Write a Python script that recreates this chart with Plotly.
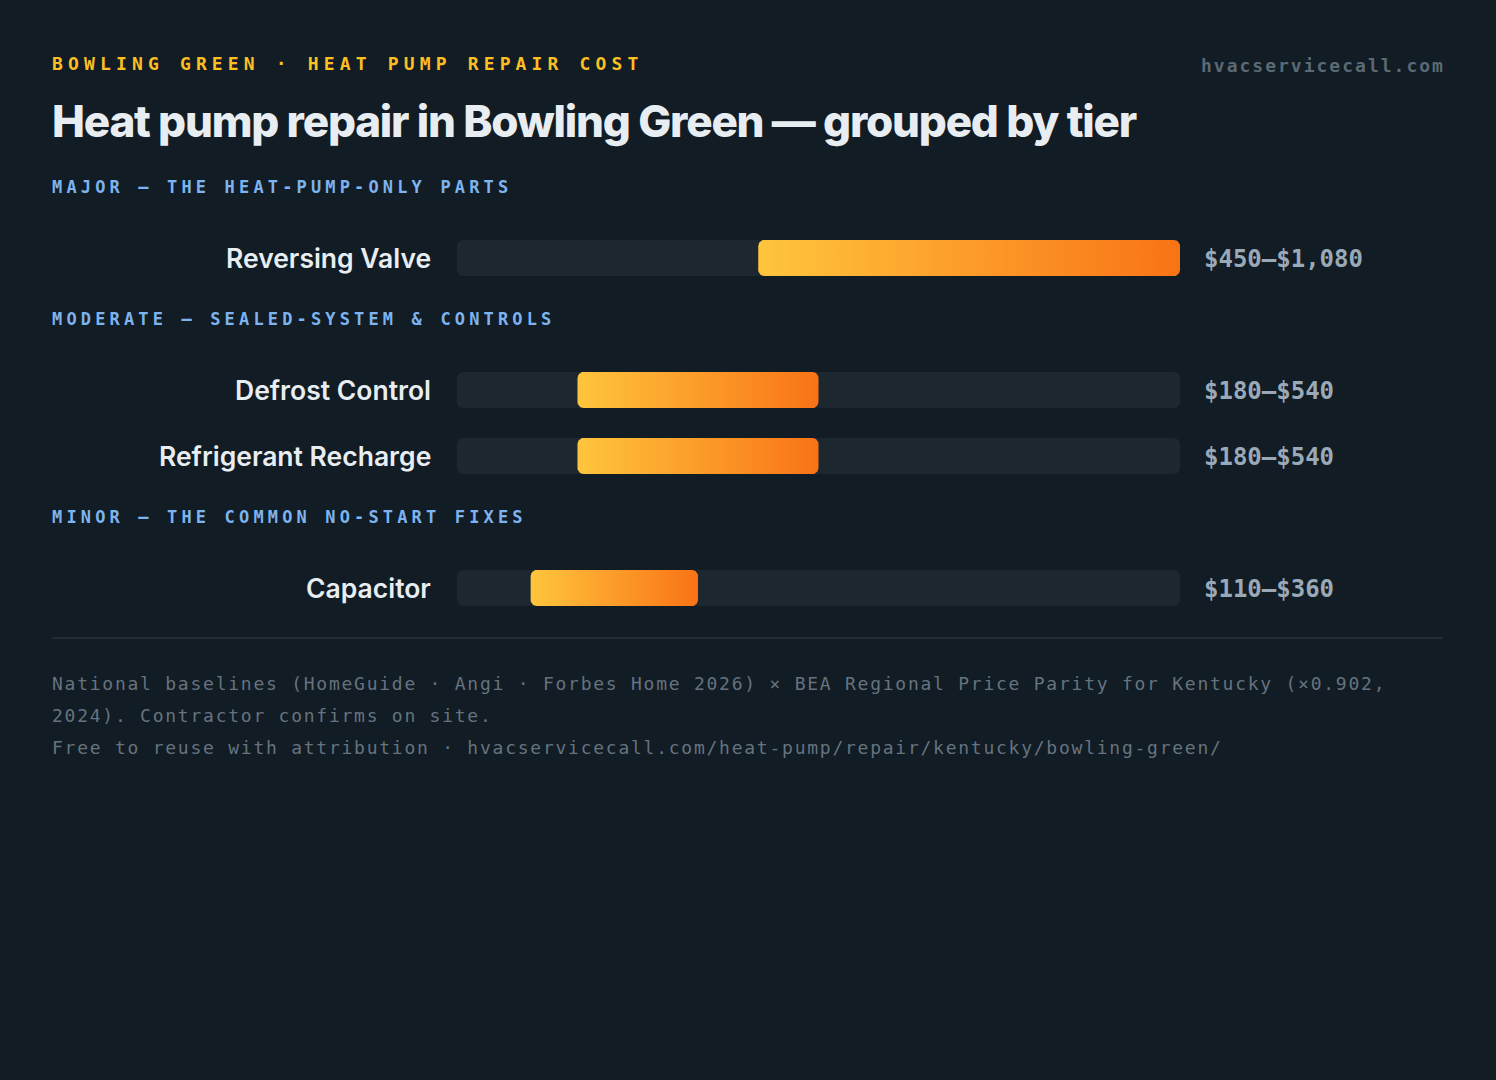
import numpy as np
import plotly.graph_objects as go

# ---------------- data ----------------
kicker = "BOWLING GREEN · HEAT PUMP REPAIR COST"
title = "Heat pump repair in Bowling Green — grouped by tier"
site = "hvacservicecall.com"
tiers = [
    "MAJOR — THE HEAT-PUMP-ONLY PARTS",
    "MODERATE — SEALED-SYSTEM & CONTROLS",
    "MINOR — THE COMMON NO-START FIXES",
]
items = ["Reversing Valve", "Defrost Control", "Refrigerant Recharge", "Capacitor"]
item_tier = [0, 1, 1, 2]
low = [450, 180, 180, 110]
high = [1080, 540, 540, 360]
value_labels = ["$450–$1,080", "$180–$540", "$180–$540", "$110–$360"]
scale_max = 1080
footer_lines = [
    "National baselines (HomeGuide · Angi · Forbes Home 2026) × BEA Regional Price Parity for Kentucky (×0.902,",
    "2024). Contractor confirms on site.",
    "Free to reuse with attribution · hvacservicecall.com/heat-pump/repair/kentucky/bowling-green/",
]

# ---------------- style ----------------
W, H = 1496, 1080
BG = "#111c24"
TRACK = "#1c272f"
GRAD = [[0, "#ffc53d"], [1, "#f97316"]]
KICKER_C = "#fbbf24"
TIER_C = "#7db3ef"
LABEL_C = "#e8edf2"
VALUE_C = "#9aa9b7"
FOOT_C = "#66737f"
SITE_C = "#5b6975"
MONO = "DejaVu Sans Mono"
SANS = "Inter"

left_px, right_px = 52, 1443
track_x0, track_x1 = 457, 1180
bar_h = 36
radius = 6

# vertical layout (pixels from top)
header_ys, row_ys = [], []
y = 187
for t in range(len(tiers)):
    if t > 0:
        y = row_ys[-1] + 61
    header_ys.append(y)
    members = [i for i, tt in enumerate(item_tier) if tt == t]
    ry = y + 71
    for k, i in enumerate(members):
        row_ys.append(ry + 66 * k)

def py(v):
    return 1 - v / H

def px(v):
    return v / W

fig = go.Figure()

# tracks
fig.add_trace(go.Bar(
    x=[scale_max] * len(items), y=row_ys, base=0, orientation="h",
    width=bar_h, marker=dict(color=TRACK, cornerradius=radius, line=dict(width=0)),
    hoverinfo="skip", showlegend=False,
))

# gradient range bars (rounded rectangles)
units_per_px = scale_max / (track_x1 - track_x0)

def rounded(x0, x1, yc):
    rx = radius * units_per_px
    top, bot = yc - bar_h / 2, yc + bar_h / 2
    corners = [
        (x0 + rx, top + radius, 180, 270),
        (x1 - rx, top + radius, 270, 360),
        (x1 - rx, bot - radius, 0, 90),
        (x0 + rx, bot - radius, 90, 180),
    ]
    xs, ys = [], []
    for cx, cy, a0, a1 in corners:
        for a in np.linspace(np.radians(a0), np.radians(a1), 10):
            xs.append(cx + rx * np.cos(a))
            ys.append(cy + radius * np.sin(a))
    xs.append(xs[0]); ys.append(ys[0])
    return xs, ys

for i in range(len(items)):
    xs, ys = rounded(low[i], high[i], row_ys[i])
    fig.add_trace(go.Scatter(
        x=xs, y=ys, mode="lines", fill="toself",
        line=dict(width=0, color="rgba(0,0,0,0)"),
        fillgradient=dict(type="horizontal", colorscale=GRAD),
        hovertemplate=f"{items[i]}: {value_labels[i]}<extra></extra>",
        showlegend=False,
    ))

ann = []

def spaced(text, ls):
    return f'<span style="letter-spacing:{ls}px">{text}</span>'

ann.append(dict(x=px(left_px), y=py(63), text=spaced(kicker, 5.15), xanchor="left", yanchor="middle",
                font=dict(family=MONO, size=18, color=KICKER_C, weight=700)))
ann.append(dict(x=px(right_px + 2), y=py(65), text=spaced(site, 2.0), xanchor="right", yanchor="middle",
                font=dict(family=MONO, size=18, color=SITE_C, weight=700)))
ann.append(dict(x=px(left_px), y=py(121), text=spaced(title, -1.2), xanchor="left", yanchor="middle",
                font=dict(family=SANS, size=44, color=LABEL_C, weight=800)))

for t, ty in enumerate(header_ys):
    ann.append(dict(x=px(left_px), y=py(ty), text=spaced(tiers[t], 4.15), xanchor="left", yanchor="middle",
                    font=dict(family=MONO, size=17, color=TIER_C, weight=700)))

for i, ry in enumerate(row_ys):
    ann.append(dict(x=px(431), y=py(ry), text=items[i], xanchor="right", yanchor="middle",
                    font=dict(family=SANS, size=26.5, color=LABEL_C, weight=600)))
    ann.append(dict(x=px(1204), y=py(ry + 1), text=value_labels[i], xanchor="left", yanchor="middle",
                    font=dict(family=MONO, size=24, color=VALUE_C, weight=700)))

divider_y = row_ys[-1] + 50
for k, line in enumerate(footer_lines):
    ann.append(dict(x=px(left_px), y=py(divider_y + 45 + 32 * k), text=spaced(line, 1.75),
                    xanchor="left", yanchor="middle",
                    font=dict(family=MONO, size=18, color=FOOT_C)))

for a in ann:
    a.update(xref="paper", yref="paper", showarrow=False, borderpad=0, borderwidth=0)

fig.update_layout(
    width=W, height=H,
    margin=dict(l=0, r=0, t=0, b=0),
    paper_bgcolor=BG, plot_bgcolor=BG,
    annotations=ann,
    shapes=[dict(type="line", xref="paper", yref="paper",
                 x0=px(left_px), x1=px(right_px), y0=py(divider_y), y1=py(divider_y),
                 line=dict(color="#26313a", width=1.5))],
    xaxis=dict(domain=[px(track_x0), px(track_x1)], range=[0, scale_max],
               visible=False, fixedrange=True),
    yaxis=dict(domain=[0, 1], range=[H, 0], visible=False, fixedrange=True),
    showlegend=False,
    hoverlabel=dict(font=dict(family=MONO)),
)

fig.write_html("out.html", config=dict(displayModeBar=False),
               post_script="document.body.style.margin='0';document.body.style.overflow='hidden';")
